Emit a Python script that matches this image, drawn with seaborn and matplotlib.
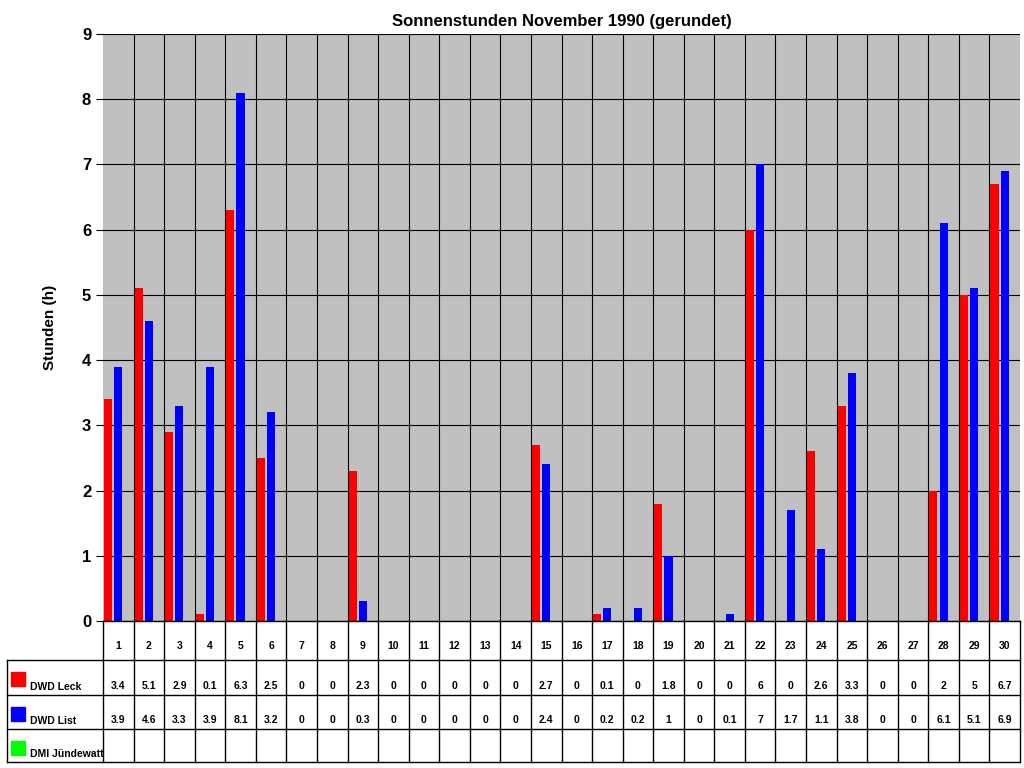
import numpy as np
import pandas as pd
import seaborn as sns
import matplotlib.pyplot as plt

days = list(range(1, 31))
leck = [3.4, 5.1, 2.9, 0.1, 6.3, 2.5, 0, 0, 2.3, 0, 0, 0, 0, 0, 2.7, 0, 0.1, 0, 1.8, 0,
        0, 6, 0, 2.6, 3.3, 0, 0, 2, 5, 6.7]
liste = [3.9, 4.6, 3.3, 3.9, 8.1, 3.2, 0, 0, 0.3, 0, 0, 0, 0, 0, 2.4, 0, 0.2, 0.2, 1, 0,
         0.1, 7, 1.7, 1.1, 3.8, 0, 0, 6.1, 5.1, 6.9]
dmi = [np.nan] * 30
series = ["DWD Leck", "DWD List", "DMI Jündewatt"]
colors = ["#ff0000", "#0000ff", "#00ff00"]

df = pd.DataFrame({
    "Tag": [str(d) for d in days] * 3,
    "Stunden": leck + liste + dmi,
    "Station": [s for s in series for _ in days],
})

plt.rcParams['font.family'] = ['Liberation Sans', 'DejaVu Sans']
fig = plt.figure(figsize=(10.24, 7.68), dpi=100)
ax = fig.add_axes([103 / 1024, 1 - 621 / 768, 917 / 1024, 587 / 768])
ax.set_facecolor("#c0c0c0")
sns.barplot(data=df, x="Tag", y="Stunden", hue="Station", palette=colors,
            width=1.0, gap=0.2, ax=ax, legend=False, saturation=1)
ax.set_xlim(-0.5, 29.5)
ax.set_ylim(0, 9)
ax.set_yticks(range(10))
ax.tick_params(axis='y', labelsize=12, length=5)
for lab in ax.get_yticklabels():
    lab.set_fontweight('bold')
ax.set_xticks([])
ax.set_xlabel("")
ax.set_ylabel("Stunden (h)", fontsize=11, fontweight='bold', labelpad=18)
ax.grid(axis='y', color='black', linewidth=0.8)
for x in np.arange(0.5, 29.5, 1):
    ax.axvline(x, color='black', linewidth=0.8)
ax.set_axisbelow(True)
for s in ax.spines.values():
    s.set_visible(False)
ax.set_title("Sonnenstunden November 1990 (gerundet)", fontsize=12, fontweight='bold', pad=6)

# data table in pixel coordinates
tab = fig.add_axes([0, 0, 1, 1])
tab.set_xlim(0, 1024)
tab.set_ylim(768, 0)
tab.axis('off')
x0, x1 = 103, 1020
w = (x1 - x0) / 30
rows = [621, 660, 695, 729, 762]
lw = 1
for i in range(31):
    tab.plot([x0 + i * w] * 2, [rows[0], rows[-1]], color='black', lw=lw)
tab.plot([7, 7], [rows[1], rows[-1]], color='black', lw=lw)
tab.plot([x0, x1], [rows[0], rows[0]], color='black', lw=lw)
for y in rows[1:]:
    tab.plot([7, x1], [y, y], color='black', lw=lw)
for i, d in enumerate(days):
    tab.text(x0 + (i + 0.5) * w, 646, str(d), ha='center', va='center', fontsize=7.5, fontweight='bold')
vals = [leck, liste, dmi]
for r, (name, col, v) in enumerate(zip(series, colors, vals)):
    ytop, ybot = rows[r + 1], rows[r + 2]
    tab.add_patch(plt.Rectangle((11, ytop + 12), 14, 14, color=col))
    tab.text(30, ybot - 8, name, ha='left', va='center', fontsize=7.5, fontweight='bold')
    for i, val in enumerate(v):
        if not np.isnan(val):
            tab.text(x0 + (i + 0.5) * w, ybot - 9, f"{val:g}", ha='center', va='center',
                     fontsize=7.5, fontweight='bold')

fig.savefig("out.png", dpi=100)
